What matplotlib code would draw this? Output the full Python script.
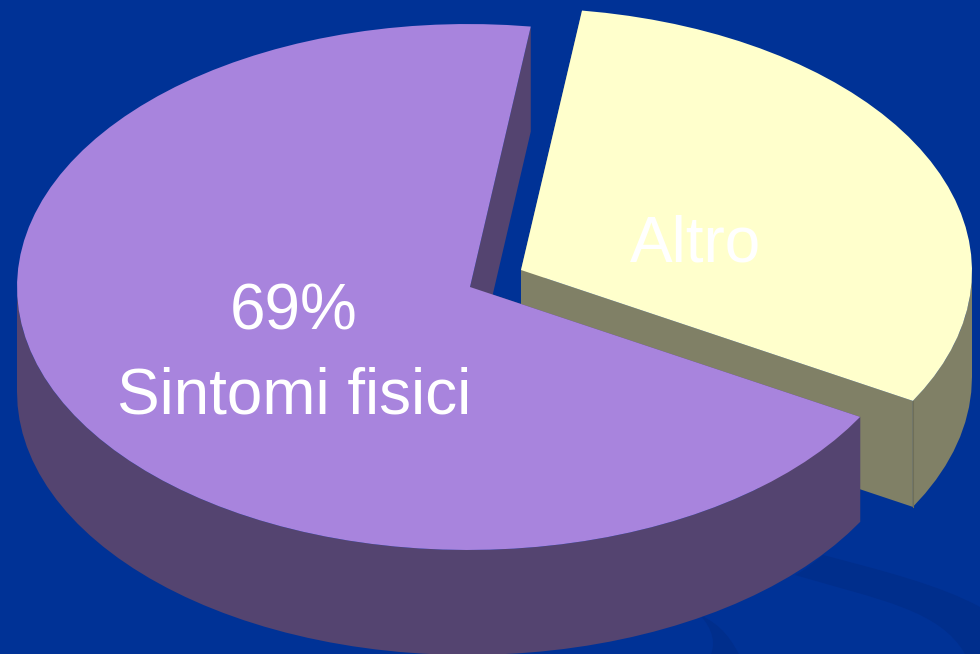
import numpy as np
import matplotlib.pyplot as plt
from matplotlib.patches import PathPatch
from matplotlib.path import Path

# Quote delle due fette
labels = ['Sintomi fisici', 'Altro']
shares = [69, 31]

BG = '#003296'
SWIRL = '#002e8c'
TOPS = ['#a884dd', '#ffffcc']
WALLS = ['#544470', '#808066']

W, H = 980, 654
RY = 263            # semiasse verticale dell'ellisse
RXS = [451, 453]    # semiasse orizzontale di ogni fetta
DEPTHS = [105, 106] # spessore della torta
START = 82          # angolo iniziale della fetta viola
APEXES = [(470, 287), (521, 270)]   # la seconda fetta e' staccata
CENTERS = [(468, 287), (519, 271)]  # centro degli archi, leggermente spostato
STEP = 3            # passo degli archi, in gradi


def arc(center, rx, a0, a1):
    """Punti dell'arco sull'ellisse da a0 ad a1 (gradi)."""
    n = max(int(abs(a1 - a0) / STEP), 1) + 1
    t = np.radians(np.linspace(a0, a1, n))
    return center[0] + rx * np.cos(t), center[1] - RY * np.sin(t)


def draw_slice(ax, i, a0, a1):
    """Disegna una fetta: pareti laterali e poi la faccia superiore."""
    cx, cy = APEXES[i]
    depth = DEPTHS[i]
    wall = WALLS[i]
    # pareti dritte verso il centro
    for a in (a0, a1):
        x, y = arc(CENTERS[i], RXS[i], a, a)
        ax.fill([cx, x[0], x[0], cx], [cy, y[0], y[0] + depth, cy + depth],
                color=wall, lw=0, zorder=2)
    # parete esterna, solo dove guarda verso il basso
    low0, low1 = max(a0, 180), min(a1, 360)
    ranges = [(low0, low1)] if low1 > low0 else []
    if a0 < 0:
        ranges.append((a0, min(a1, 0)))
    for r0, r1 in ranges:
        x, y = arc(CENTERS[i], RXS[i], r0, r1)
        ax.fill(np.r_[x, x[::-1]], np.r_[y, y[::-1] + depth],
                color=wall, lw=0, zorder=2)
    x, y = arc(CENTERS[i], RXS[i], a0, a1)
    ax.fill(np.r_[cx, x], np.r_[cy, y], color=TOPS[i], lw=0, zorder=2)


def swirl(ax, verts):
    """Fascia curva dello sfondo."""
    codes = [Path.MOVETO] + [Path.CURVE4] * (len(verts) - 1)
    ax.add_patch(PathPatch(Path(verts, codes), fc=SWIRL, lw=0, zorder=1))


fig = plt.figure(figsize=(W / 100, H / 100), dpi=100, facecolor=BG)
ax = fig.add_axes([0, 0, 1, 1])
ax.set_xlim(0, W)
ax.set_ylim(H, 0)
ax.axis('off')

# fasce scure dello sfondo in basso
swirl(ax, [(823, 555), (880, 570), (940, 585), (980, 607),
           (985, 620), (985, 640), (985, 660),
           (975, 660), (970, 660), (965, 654),
           (940, 610), (880, 600), (795, 575),
           (805, 570), (815, 562), (823, 555)])
swirl(ax, [(700, 615), (722, 625), (732, 640), (742, 660),
           (730, 660), (720, 660), (708, 660),
           (718, 645), (712, 628), (700, 615)])

sweeps = np.array(shares) / sum(shares) * 360
a_start = [START, START + sweeps[0] - 360]
# prima la fetta gialla, la viola le passa davanti
draw_slice(ax, 1, a_start[1], a_start[1] + sweeps[1])
draw_slice(ax, 0, a_start[0], a_start[0] + sweeps[0])

# spigolo della parete gialla
ex, ey = arc(CENTERS[1], RXS[1], a_start[1], a_start[1])
ax.plot([ex[0], ex[0]], [ey[0], ey[0] + DEPTHS[1]], color='#6f6f58', lw=0.8, zorder=3)

font = dict(family='Liberation Sans', fontsize=46, color='white',
            ha='center', va='baseline', zorder=4)
ax.text(294, 329, '%d%%' % shares[0], **font)
ax.text(294, 413, labels[0], **font)
ax.text(695, 262, labels[1], **font)

fig.savefig('out.png', dpi=100, facecolor=BG)
